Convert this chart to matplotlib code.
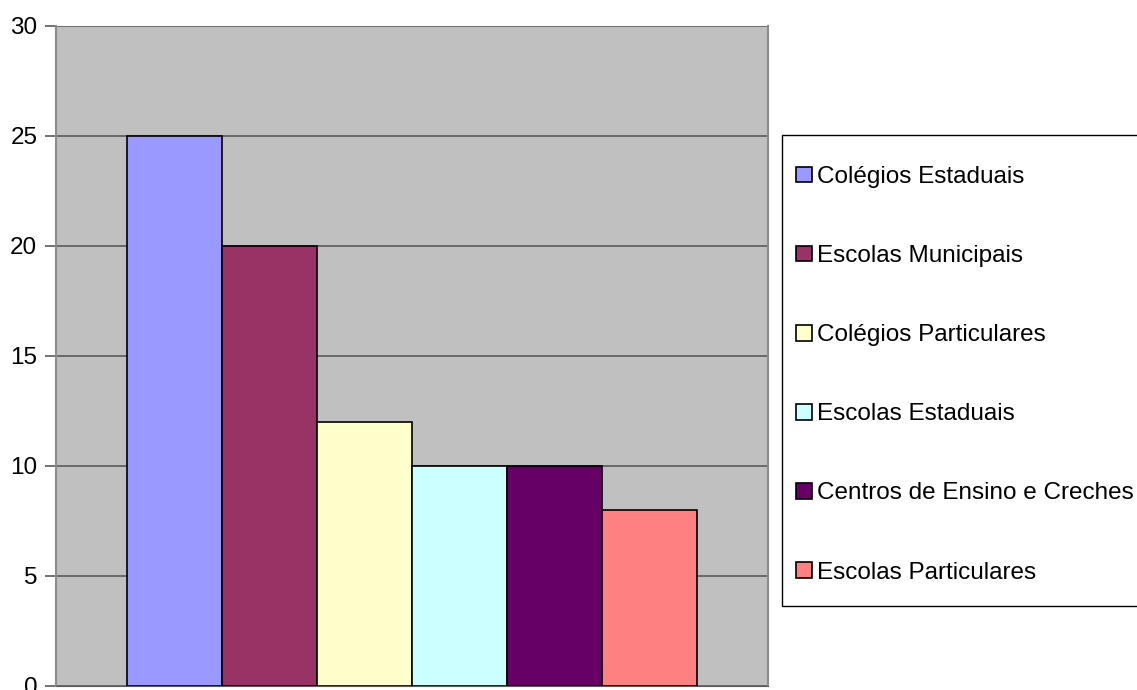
import numpy as np
import matplotlib
matplotlib.use("Agg")
import matplotlib.pyplot as plt
from matplotlib.patches import Rectangle

plt.rcParams['font.family'] = ['Liberation Sans', 'DejaVu Sans']

categorias = ["Colégios Estaduais", "Escolas Municipais", "Colégios Particulares",
              "Escolas Estaduais", "Centros de Ensino e Creches", "Escolas Particulares"]
valores = [25, 20, 12, 10, 10, 8]
cores = ["#9999FF", "#993366", "#FFFFCC", "#CCFFFF", "#660066", "#FF8080"]
yticks = [0, 5, 10, 15, 20, 25, 30]

W, H = 1137, 690
fig = plt.figure(figsize=(W/100, H/100), dpi=100)
ax = fig.add_axes([56/W, 1-685.7/H, (768-56)/W, (685.7-25.7)/H])
ax.set_facecolor("#C0C0C0")

n = len(valores)
larg = 0.8006/n
pos = -0.4003 + larg*(np.arange(n)+0.5)
for i in range(n):
    ax.bar(pos[i], valores[i], width=larg, color=cores[i], edgecolor="black",
           linewidth=1.2, label=categorias[i], zorder=3)

ax.set_xlim(-0.5, 0.5)
ax.set_ylim(0, 30)
ax.set_yticks(yticks)
ax.set_xticks([])
ax.yaxis.grid(True, color="#5a5a5a", linewidth=1.2, zorder=1)
ax.set_axisbelow(True)
ax.tick_params(axis="y", length=8, width=1.2, color="#5a5a5a", labelsize=17.5, pad=5.5)
for s in ["left", "right"]:
    ax.spines[s].set_color("#8c8c8c")
    ax.spines[s].set_linewidth(1.5)
ax.spines["top"].set_visible(False)
ax.spines["bottom"].set_color("#5a5a5a")

# caixa da legenda
caixa = Rectangle((782/W, 1-606/H), 400/W, (606-135)/H, transform=fig.transFigure,
                  facecolor="white", edgecolor="black", linewidth=1.0)
fig.add_artist(caixa)

leg = fig.legend(loc="upper left", bbox_to_anchor=(796/W, 1-166/H),
                 fontsize=17.5, frameon=False,
                 handlelength=0.64, handleheight=0.62,
                 handletextpad=0.22, labelspacing=2.35, borderpad=0,
                 borderaxespad=0)
for h in leg.legend_handles:
    h.set_linewidth(1.2)

fig.savefig("out.png", dpi=100)
